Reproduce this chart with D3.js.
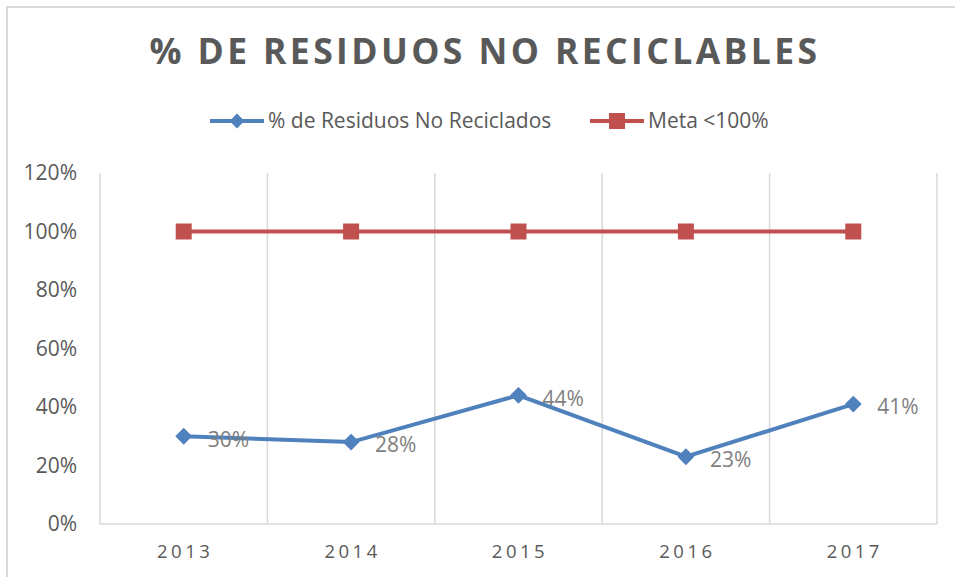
<!DOCTYPE html>
<html>
<head>
<meta charset="utf-8">
<script src="https://cdn.jsdelivr.net/npm/d3@7"></script>
<style>
  body { margin: 0; background: #fff; }
  svg text { font-family: "Open Sans", sans-serif; }
</style>
</head>
<body>
<svg id="chart" width="955" height="577"></svg>
<script>
// data
const years = ["2013", "2014", "2015", "2016", "2017"];
const noReciclados = [0.30, 0.28, 0.44, 0.23, 0.41];
const meta = [1.00, 1.00, 1.00, 1.00, 1.00];
const yTicks = [0, 0.2, 0.4, 0.6, 0.8, 1.0, 1.2];
const seriesNames = ["% de Residuos No Reciclados", "Meta <100%"];

const width = 955, height = 577;
const svg = d3.select("#chart");

// chart border
svg.append("rect")
    .attr("x", 7).attr("y", 7)
    .attr("width", 960).attr("height", 600)
    .attr("fill", "none")
    .attr("stroke", "#d9d9d9")
    .attr("stroke-width", 2);

const x = d3.scaleBand().domain(years).range([100, 937]).padding(0);
const y = d3.scaleLinear().domain([0, 1.2]).range([524, 173]);

// vertical gridlines at category edges
const edges = years.map(d => x(d)).concat([x.range()[1]]);
svg.selectAll(".vgrid")
    .data(edges)
    .join("line")
    .attr("class", "vgrid")
    .attr("x1", d => d).attr("x2", d => d)
    .attr("y1", y(1.2)).attr("y2", y(0))
    .attr("stroke", "#d9d9d9")
    .attr("stroke-width", 1.5);

// bottom axis line
svg.append("line")
    .attr("x1", 100).attr("x2", 937)
    .attr("y1", y(0)).attr("y2", y(0))
    .attr("stroke", "#d9d9d9")
    .attr("stroke-width", 1.5);

// y labels
svg.selectAll(".ylab")
    .data(yTicks)
    .join("text")
    .attr("class", "ylab")
    .attr("x", 77)
    .attr("y", d => y(d))
    .attr("dy", "0.35em")
    .attr("text-anchor", "end")
    .attr("fill", "#595959")
    .style("font-size", "21px")
    .text(d => d3.format(".0%")(d));

// x labels
svg.selectAll(".xlab")
    .data(years)
    .join("text")
    .attr("class", "xlab")
    .attr("x", d => x(d) + x.bandwidth() / 2 + 1.5)
    .attr("y", 552)
    .attr("dy", "0.35em")
    .attr("text-anchor", "middle")
    .attr("fill", "#595959")
    .style("font-size", "18.5px")
    .style("letter-spacing", "3.5px")
    .text(d => d);

const cx = d => x(d) + x.bandwidth() / 2;
const line = d3.line().x(d => cx(d.year)).y(d => y(d.v));

const blueData = years.map((yr, i) => ({ year: yr, v: noReciclados[i] }));
const redData = years.map((yr, i) => ({ year: yr, v: meta[i] }));

// meta line
svg.append("path")
    .datum(redData)
    .attr("d", line)
    .attr("fill", "none")
    .attr("stroke", "#c0504d")
    .attr("stroke-width", 4);

svg.selectAll(".sq")
    .data(redData)
    .join("rect")
    .attr("class", "sq")
    .attr("x", d => cx(d.year) - 8)
    .attr("y", d => y(d.v) - 8)
    .attr("width", 16).attr("height", 16)
    .attr("fill", "#c0504d");

// blue line
svg.append("path")
    .datum(blueData)
    .attr("d", line)
    .attr("fill", "none")
    .attr("stroke", "#4f81bd")
    .attr("stroke-width", 4);

const diamond = d3.symbol().type(d3.symbolDiamond2).size(180);
svg.selectAll(".dm")
    .data(blueData)
    .join("path")
    .attr("class", "dm")
    .attr("transform", d => `translate(${cx(d.year)},${y(d.v)})`)
    .attr("d", diamond)
    .attr("fill", "#4f81bd");

// data labels
svg.selectAll(".dlab")
    .data(blueData)
    .join("text")
    .attr("class", "dlab")
    .attr("x", d => cx(d.year) + 24)
    .attr("y", d => y(d.v) + 3)
    .attr("dy", "0.35em")
    .attr("fill", "#7f7f7f")
    .style("font-size", "21px")
    .text(d => d3.format(".0%")(d.v));

// title
svg.append("text")
    .attr("x", 485)
    .attr("y", 52)
    .attr("dy", "0.35em")
    .attr("text-anchor", "middle")
    .attr("fill", "#595959")
    .style("font-size", "35.5px")
    .style("font-weight", "bold")
    .style("letter-spacing", "3.4px")
    .text("% DE RESIDUOS NO RECICLABLES");

// legend
const legend = svg.append("g");
const legendItems = [
    { name: seriesNames[0], color: "#4f81bd", x0: 210, shape: "diamond" },
    { name: seriesNames[1], color: "#c0504d", x0: 590, shape: "square" }
];
legendItems.forEach(it => {
    const g = legend.append("g").attr("transform", `translate(${it.x0},121)`);
    g.append("line")
        .attr("x1", 0).attr("x2", 54)
        .attr("stroke", it.color).attr("stroke-width", 4);
    if (it.shape === "diamond") {
        g.append("path")
            .attr("transform", "translate(27,0)")
            .attr("d", d3.symbol().type(d3.symbolDiamond2).size(140))
            .attr("fill", it.color);
    } else {
        g.append("rect")
            .attr("x", 19).attr("y", -8)
            .attr("width", 16).attr("height", 16)
            .attr("fill", it.color);
    }
    g.append("text")
        .attr("x", 58)
        .attr("dy", "0.35em")
        .attr("fill", "#595959")
        .style("font-size", "21px")
        .text(it.name);
});
</script>
</body>
</html>
